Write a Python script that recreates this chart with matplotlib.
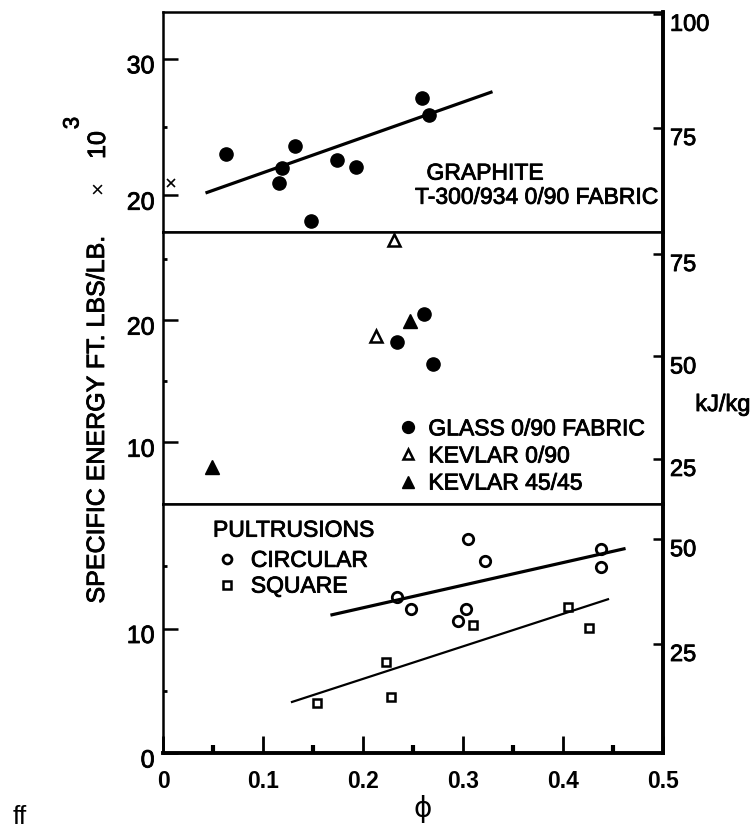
import numpy as np
import matplotlib
matplotlib.use("Agg")
import matplotlib.pyplot as plt
import matplotlib.patheffects as pe
from matplotlib.transforms import ScaledTranslation

# -----------------------------------------------------------------------------
# datos
# -----------------------------------------------------------------------------
# panel superior: grafito T-300/934
graphite_phi = [0.063, 0.116, 0.119, 0.132, 0.148, 0.174, 0.193, 0.259, 0.266]
graphite_e   = [23.0, 20.9, 22.0, 23.6, 18.1, 22.6, 22.1, 27.1, 25.9]
graphite_fit_phi = [0.044, 0.328]
graphite_fit_e   = [20.2, 27.55]
graphite_x_phi = [0.008]
graphite_x_e   = [20.9]

# panel central: vidrio / kevlar
glass_phi   = [0.234, 0.261, 0.270]
glass_e     = [18.2, 20.5, 16.4]
kev090_phi  = [0.213, 0.231]
kev090_e    = [18.7, 26.6]
kev4545_phi = [0.049, 0.247]
kev4545_e   = [8.0, 19.95]

# panel inferior: pultrusiones
circ_phi = [0.234, 0.248, 0.295, 0.303, 0.305, 0.322, 0.438, 0.438]
circ_e   = [12.5, 11.6, 10.6, 11.6, 17.2, 15.45, 16.35, 14.9]
sq_phi   = [0.154, 0.223, 0.228, 0.310, 0.405, 0.426]
sq_e     = [4.05, 7.3, 4.5, 10.3, 11.7, 10.05]
circ_fit_phi = [0.169, 0.461]
circ_fit_e   = [11.1, 16.4]
sq_fit_phi   = [0.129, 0.445]
sq_fit_e     = [4.1, 12.35]

x_ticks  = [0, 0.1, 0.2, 0.3, 0.4, 0.5]
x_labels = ["0", "0.1", "0.2", "0.3", "0.4", "0.5"]
x_minor  = [0.05, 0.15, 0.25, 0.35, 0.45]

plt.rcParams["font.family"] = ["Liberation Sans", "DejaVu Sans"]

# trazo fino para engrosar el texto (el original es un escaneo)
GRUESO = [pe.withStroke(linewidth=0.6, foreground="black")]

# -----------------------------------------------------------------------------
# figura
# -----------------------------------------------------------------------------
fig = plt.figure(figsize=(7.56, 8.32), dpi=100)
gs = fig.add_gridspec(3, 1, height_ratios=[219.5, 272.5, 249], hspace=0,
                      left=163 / 756, right=663 / 756,
                      bottom=(832 - 753) / 832, top=(832 - 12) / 832)
ax_top = fig.add_subplot(gs[0])
ax_mid = fig.add_subplot(gs[1], sharex=ax_top)
ax_bot = fig.add_subplot(gs[2], sharex=ax_top)

BAJAR = ScaledTranslation(0, -0.05, fig.dpi_scale_trans)


def estilo_panel(ax, ylim, major, minor, rlim, rticks):
    ax.set_ylim(*ylim)
    ax.set_yticks(major)
    ax.set_yticks(minor, minor=True)
    ax.tick_params(axis="y", which="major", direction="in", length=11, width=1.8,
                   labelsize=18, pad=6)
    ax.tick_params(axis="y", which="minor", direction="in", length=3, width=2)
    for lab in ax.get_yticklabels():
        lab.set_transform(lab.get_transform() + BAJAR)
        lab.set_path_effects(GRUESO)
    for s in ax.spines.values():
        s.set_linewidth(1.8)
    ax.spines["right"].set_linewidth(2.6)

    ax2 = ax.twinx()
    ax2.set_ylim(*rlim)
    ax2.set_yticks(rticks)
    ax2.tick_params(axis="y", direction="in", length=7, width=1.8,
                    labelsize=17, pad=5)
    for lab in ax2.get_yticklabels():
        lab.set_va("top")
        lab.set_path_effects(GRUESO)
    for s in ax2.spines.values():
        s.set_visible(False)
    ax2.spines["right"].set_visible(True)
    ax2.spines["right"].set_linewidth(2.6)
    return ax2


ax_top.set_xlim(0, 0.5)
estilo_panel(ax_top, (17.34, 33.43), [20, 30], [25], (52.35, 100.4), [75, 100])
estilo_panel(ax_mid, (4.94, 27.26), [10, 20], [15, 25], (14.0, 80.5), [25, 50, 75])
estilo_panel(ax_bot, (0, 20.0), [0, 10], [5, 15], (-1.0, 58.4), [25, 50])

for ax in (ax_top, ax_mid):
    ax.tick_params(axis="x", which="both", bottom=False, labelbottom=False)

ax_bot.set_xticks(x_ticks)
ax_bot.set_xticklabels(x_labels, fontweight="bold")
ax_bot.set_xticks(x_minor, minor=True)
ax_bot.tick_params(axis="x", which="major", direction="in", length=12, width=2,
                   labelsize=16.5, pad=12)
ax_bot.tick_params(axis="x", which="minor", direction="in", length=6, width=3)
ax_bot.spines["bottom"].set_linewidth(2.8)

# --- panel superior ---
ax_top.plot(graphite_phi, graphite_e, "o", color="black", ms=9.5)
ax_top.plot(graphite_fit_phi, graphite_fit_e, "-", color="black", lw=2.3)
ax_top.plot(graphite_x_phi, graphite_x_e, "x", color="black", ms=6, mew=1.2)
ax_top.text(0.527, 0.266, "GRAPHITE", transform=ax_top.transAxes,
            fontsize=16.5, va="center", ha="left", path_effects=GRUESO)
ax_top.text(0.504, 0.156, "T-300/934 0/90 FABRIC", transform=ax_top.transAxes,
            fontsize=16.5, va="center", ha="left", path_effects=GRUESO)

# --- panel central ---
ax_mid.plot(glass_phi, glass_e, "o", color="black", ms=9.5,
            label="GLASS 0/90 FABRIC")
ax_mid.plot(kev090_phi, kev090_e, "^", color="black", mfc="white", ms=8, mew=1.8,
            label="KEVLAR 0/90")
ax_mid.plot(kev4545_phi, kev4545_e, "^", color="black", ms=10,
            label="KEVLAR 45/45")
leg_mid = ax_mid.legend(loc="upper left", bbox_to_anchor=(0.462, 0.318),
                        frameon=False, fontsize=16.5, handlelength=1.2,
                        handletextpad=0.3, labelspacing=0.18, borderpad=0,
                        borderaxespad=0, markerscale=0.9)
for t in leg_mid.get_texts():
    t.set_path_effects(GRUESO)

# --- panel inferior ---
ax_bot.plot(circ_phi, circ_e, "o", color="black", mfc="white", ms=7.5, mew=2,
            label="CIRCULAR")
ax_bot.plot(sq_phi, sq_e, "s", color="black", mfc="white", ms=6, mew=1.8,
            label="SQUARE")
ax_bot.plot(circ_fit_phi, circ_fit_e, "-", color="black", lw=2.3)
ax_bot.plot(sq_fit_phi, sq_fit_e, "-", color="black", lw=1.6)
ax_bot.text(0.1, 0.895, "PULTRUSIONS", transform=ax_bot.transAxes,
            fontsize=16.5, va="center", ha="left", path_effects=GRUESO)
leg_bot = ax_bot.legend(loc="upper left", bbox_to_anchor=(0.1, 0.82),
                        frameon=False, fontsize=16.5, handlelength=1.2,
                        handletextpad=0.45, labelspacing=0.12, borderpad=0,
                        borderaxespad=0, markerscale=0.85)
for t in leg_bot.get_texts():
    t.set_path_effects(GRUESO)

# --- textos de ejes ---
fig.text(97 / 756, 1 - 420 / 832, "SPECIFIC ENERGY FT. LBS/LB.", rotation=90,
         ha="center", va="center", fontsize=18, path_effects=GRUESO)
fig.text(98 / 756, 1 - 187 / 832, "\u00d7", rotation=90,
         ha="center", va="center", fontsize=16)
fig.text(98 / 756, 1 - 145 / 832, "10", rotation=90,
         ha="center", va="center", fontsize=18, path_effects=GRUESO)
fig.text(73 / 756, 1 - 123 / 832, "3", rotation=90,
         ha="center", va="center", fontsize=16, path_effects=GRUESO)
fig.text(723 / 756, 1 - 405 / 832, "kJ/kg", ha="center", va="center",
         fontsize=17, path_effects=GRUESO)
fig.text(423 / 756, 1 - 809 / 832, "\u03d5", ha="center", va="center",
         fontsize=20, family=["DejaVu Sans"])
fig.text(20 / 756, 1 - 817 / 832, "ff", ha="center", va="center", fontsize=19)

fig.savefig("out.png", dpi=100)
